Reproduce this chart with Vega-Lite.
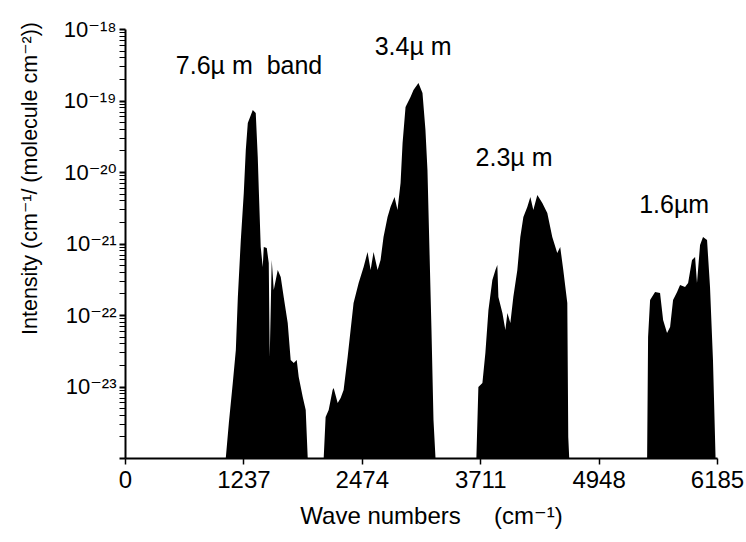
{
  "$schema": "https://vega.github.io/schema/vega-lite/v6.json",
  "autosize": {"type": "none"},
  "width": 592,
  "height": 429,
  "padding": {"left": 125, "top": 29, "right": 29, "bottom": 84},
  "background": "white",
  "config": {"view": {"stroke": null}, "font": "Liberation Sans, DejaVu Sans"},
  "datasets": {
    "spectrum": [
      {"band": "7.6", "wavenumber": 1053, "intensity": 1e-24},
      {"band": "7.6", "wavenumber": 1085, "intensity": 3.09e-24},
      {"band": "7.6", "wavenumber": 1126, "intensity": 1.12e-23},
      {"band": "7.6", "wavenumber": 1158, "intensity": 3.24e-23},
      {"band": "7.6", "wavenumber": 1179, "intensity": 1.79e-22},
      {"band": "7.6", "wavenumber": 1210, "intensity": 1.12e-21},
      {"band": "7.6", "wavenumber": 1241, "intensity": 5.08e-21},
      {"band": "7.6", "wavenumber": 1262, "intensity": 2.03e-20},
      {"band": "7.6", "wavenumber": 1283, "intensity": 4.84e-20},
      {"band": "7.6", "wavenumber": 1335, "intensity": 7.36e-20},
      {"band": "7.6", "wavenumber": 1366, "intensity": 6.68e-20},
      {"band": "7.6", "wavenumber": 1387, "intensity": 1.62e-20},
      {"band": "7.6", "wavenumber": 1398, "intensity": 5.6e-21},
      {"band": "7.6", "wavenumber": 1418, "intensity": 8.93e-22},
      {"band": "7.6", "wavenumber": 1439, "intensity": 4.69e-22},
      {"band": "7.6", "wavenumber": 1450, "intensity": 8.93e-22},
      {"band": "7.6", "wavenumber": 1481, "intensity": 8.65e-22},
      {"band": "7.6", "wavenumber": 1502, "intensity": 5.33e-22},
      {"band": "7.6", "wavenumber": 1512, "intensity": 2.59e-23},
      {"band": "7.6", "wavenumber": 1533, "intensity": 5.87e-22},
      {"band": "7.6", "wavenumber": 1554, "intensity": 2.24e-22},
      {"band": "7.6", "wavenumber": 1596, "intensity": 4.26e-22},
      {"band": "7.6", "wavenumber": 1627, "intensity": 3.4e-22},
      {"band": "7.6", "wavenumber": 1658, "intensity": 1.79e-22},
      {"band": "7.6", "wavenumber": 1700, "intensity": 7.73e-23},
      {"band": "7.6", "wavenumber": 1731, "intensity": 2.35e-23},
      {"band": "7.6", "wavenumber": 1763, "intensity": 2.13e-23},
      {"band": "7.6", "wavenumber": 1794, "intensity": 2.35e-23},
      {"band": "7.6", "wavenumber": 1815, "intensity": 1.36e-23},
      {"band": "7.6", "wavenumber": 1857, "intensity": 7.13e-24},
      {"band": "7.6", "wavenumber": 1888, "intensity": 4.69e-24},
      {"band": "7.6", "wavenumber": 1909, "intensity": 1e-24},
      {"band": "3.4", "wavenumber": 2076, "intensity": 1e-24},
      {"band": "3.4", "wavenumber": 2096, "intensity": 3.74e-24},
      {"band": "3.4", "wavenumber": 2128, "intensity": 4.69e-24},
      {"band": "3.4", "wavenumber": 2169, "intensity": 8.93e-24},
      {"band": "3.4", "wavenumber": 2180, "intensity": 9.53e-24},
      {"band": "3.4", "wavenumber": 2222, "intensity": 5.87e-24},
      {"band": "3.4", "wavenumber": 2253, "intensity": 6.9e-24},
      {"band": "3.4", "wavenumber": 2284, "intensity": 8.93e-24},
      {"band": "3.4", "wavenumber": 2326, "intensity": 2.59e-23},
      {"band": "3.4", "wavenumber": 2357, "intensity": 6.17e-23},
      {"band": "3.4", "wavenumber": 2388, "intensity": 1.47e-22},
      {"band": "3.4", "wavenumber": 2441, "intensity": 2.81e-22},
      {"band": "3.4", "wavenumber": 2493, "intensity": 4.69e-22},
      {"band": "3.4", "wavenumber": 2534, "intensity": 7.6e-22},
      {"band": "3.4", "wavenumber": 2566, "intensity": 4.26e-22},
      {"band": "3.4", "wavenumber": 2597, "intensity": 7.6e-22},
      {"band": "3.4", "wavenumber": 2639, "intensity": 4.26e-22},
      {"band": "3.4", "wavenumber": 2670, "intensity": 5.87e-22},
      {"band": "3.4", "wavenumber": 2701, "intensity": 1.23e-21},
      {"band": "3.4", "wavenumber": 2743, "intensity": 2.35e-21},
      {"band": "3.4", "wavenumber": 2774, "intensity": 3.24e-21},
      {"band": "3.4", "wavenumber": 2816, "intensity": 4.47e-21},
      {"band": "3.4", "wavenumber": 2847, "intensity": 2.94e-21},
      {"band": "3.4", "wavenumber": 2879, "intensity": 7.01e-21},
      {"band": "3.4", "wavenumber": 2900, "intensity": 2.55e-20},
      {"band": "3.4", "wavenumber": 2931, "intensity": 8.11e-20},
      {"band": "3.4", "wavenumber": 2983, "intensity": 1.12e-19},
      {"band": "3.4", "wavenumber": 3014, "intensity": 1.4e-19},
      {"band": "3.4", "wavenumber": 3066, "intensity": 1.76e-19},
      {"band": "3.4", "wavenumber": 3108, "intensity": 1.27e-19},
      {"band": "3.4", "wavenumber": 3139, "intensity": 3.86e-20},
      {"band": "3.4", "wavenumber": 3160, "intensity": 1.07e-20},
      {"band": "3.4", "wavenumber": 3181, "intensity": 8.11e-22},
      {"band": "3.4", "wavenumber": 3202, "intensity": 6.17e-23},
      {"band": "3.4", "wavenumber": 3223, "intensity": 3.4e-24},
      {"band": "3.4", "wavenumber": 3244, "intensity": 1e-24},
      {"band": "2.3", "wavenumber": 3671, "intensity": 1e-24},
      {"band": "2.3", "wavenumber": 3692, "intensity": 9.84e-24},
      {"band": "2.3", "wavenumber": 3734, "intensity": 1.12e-23},
      {"band": "2.3", "wavenumber": 3765, "intensity": 2.94e-23},
      {"band": "2.3", "wavenumber": 3797, "intensity": 1.17e-22},
      {"band": "2.3", "wavenumber": 3838, "intensity": 3.09e-22},
      {"band": "2.3", "wavenumber": 3870, "intensity": 4.26e-22},
      {"band": "2.3", "wavenumber": 3890, "intensity": 5e-22},
      {"band": "2.3", "wavenumber": 3901, "intensity": 1.79e-22},
      {"band": "2.3", "wavenumber": 3943, "intensity": 1.07e-22},
      {"band": "2.3", "wavenumber": 3974, "intensity": 6.17e-23},
      {"band": "2.3", "wavenumber": 3995, "intensity": 1.07e-22},
      {"band": "2.3", "wavenumber": 4026, "intensity": 7.73e-23},
      {"band": "2.3", "wavenumber": 4057, "intensity": 1.79e-22},
      {"band": "2.3", "wavenumber": 4099, "intensity": 4.26e-22},
      {"band": "2.3", "wavenumber": 4130, "intensity": 1.23e-21},
      {"band": "2.3", "wavenumber": 4162, "intensity": 2.35e-21},
      {"band": "2.3", "wavenumber": 4203, "intensity": 3.24e-21},
      {"band": "2.3", "wavenumber": 4235, "intensity": 4.47e-21},
      {"band": "2.3", "wavenumber": 4266, "intensity": 2.94e-21},
      {"band": "2.3", "wavenumber": 4308, "intensity": 4.76e-21},
      {"band": "2.3", "wavenumber": 4360, "intensity": 3.68e-21},
      {"band": "2.3", "wavenumber": 4412, "intensity": 2.67e-21},
      {"band": "2.3", "wavenumber": 4464, "intensity": 1.23e-21},
      {"band": "2.3", "wavenumber": 4516, "intensity": 7.36e-22},
      {"band": "2.3", "wavenumber": 4547, "intensity": 8.93e-22},
      {"band": "2.3", "wavenumber": 4579, "intensity": 4.26e-22},
      {"band": "2.3", "wavenumber": 4621, "intensity": 1.47e-22},
      {"band": "2.3", "wavenumber": 4631, "intensity": 1.97e-24},
      {"band": "2.3", "wavenumber": 4641, "intensity": 1e-24},
      {"band": "1.6", "wavenumber": 5455, "intensity": 1e-24},
      {"band": "1.6", "wavenumber": 5465, "intensity": 4.92e-23},
      {"band": "1.6", "wavenumber": 5486, "intensity": 1.62e-22},
      {"band": "1.6", "wavenumber": 5538, "intensity": 2.1e-22},
      {"band": "1.6", "wavenumber": 5590, "intensity": 2.03e-22},
      {"band": "1.6", "wavenumber": 5622, "intensity": 8.51e-23},
      {"band": "1.6", "wavenumber": 5663, "intensity": 5.6e-23},
      {"band": "1.6", "wavenumber": 5695, "intensity": 6.79e-23},
      {"band": "1.6", "wavenumber": 5726, "intensity": 1.62e-22},
      {"band": "1.6", "wavenumber": 5768, "intensity": 2.1e-22},
      {"band": "1.6", "wavenumber": 5799, "intensity": 2.63e-22},
      {"band": "1.6", "wavenumber": 5851, "intensity": 2.47e-22},
      {"band": "1.6", "wavenumber": 5883, "intensity": 2.81e-22},
      {"band": "1.6", "wavenumber": 5924, "intensity": 5.87e-22},
      {"band": "1.6", "wavenumber": 5956, "intensity": 6.47e-22},
      {"band": "1.6", "wavenumber": 5976, "intensity": 2.81e-22},
      {"band": "1.6", "wavenumber": 6008, "intensity": 9.53e-22},
      {"band": "1.6", "wavenumber": 6039, "intensity": 1.23e-21},
      {"band": "1.6", "wavenumber": 6081, "intensity": 1.12e-21},
      {"band": "1.6", "wavenumber": 6112, "intensity": 2.47e-22},
      {"band": "1.6", "wavenumber": 6143, "intensity": 2.35e-23},
      {"band": "1.6", "wavenumber": 6170, "intensity": 1e-24}
    ],
    "labels": [
      {"label": "7.6µ m\u00a0\u00a0band", "wavenumber": 1296, "intensity": 3.04e-19},
      {"label": "3.4µ m", "wavenumber": 3010, "intensity": 5.6e-19},
      {"label": "2.3µ m", "wavenumber": 4065, "intensity": 1.57e-20},
      {"label": "1.6µm", "wavenumber": 5737, "intensity": 3.45e-21}
    ]
  },
  "layer": [
    {
      "data": {"name": "spectrum"},
      "mark": {"type": "area", "color": "black", "interpolate": "linear", "opacity": 1},
      "encoding": {
        "x": {
          "field": "wavenumber",
          "type": "quantitative",
          "scale": {"domain": [0, 6185], "nice": false, "zero": false},
          "axis": {
            "values": [0, 1237, 2474, 3711, 4948, 6185],
            "format": "d",
            "grid": false,
            "domainColor": "black",
            "domainWidth": 2,
            "tickColor": "black",
            "tickSize": 6,
            "tickWidth": 1.5,
            "labelFontSize": 24,
            "labelColor": "black",
            "labelPadding": 4,
            "labelFlush": false,
            "title": "Wave numbers\u00a0\u00a0\u00a0\u00a0\u00a0(cm⁻¹)",
            "titleFontSize": 24,
            "titleFontWeight": "normal",
            "titleColor": "black",
            "titlePadding": 12,
            "titleX": 306
          }
        },
        "y": {
          "field": "intensity",
          "type": "quantitative",
          "scale": {"type": "log", "domain": [1e-24, 1e-18], "nice": false},
          "axis": {
            "orient": "left",
            "values": [1e-24, 2e-24, 3e-24, 4e-24, 5e-24, 6e-24, 7e-24, 8e-24, 9e-24, 1e-23, 2e-23, 3e-23, 4e-23, 5e-23, 6e-23, 7e-23, 8e-23, 9e-23, 1e-22, 2e-22, 3e-22, 4e-22, 5e-22, 6e-22, 7e-22, 8e-22, 9e-22, 1e-21, 2e-21, 3e-21, 4e-21, 5e-21, 6e-21, 7e-21, 8e-21, 9e-21, 1e-20, 2e-20, 3e-20, 4e-20, 5e-20, 6e-20, 7e-20, 8e-20, 9e-20, 1e-19, 2e-19, 3e-19, 4e-19, 5e-19, 6e-19, 7e-19, 8e-19, 9e-19, 1e-18],
            "labelExpr": "abs(log(datum.value)/LN10 - round(log(datum.value)/LN10)) > 0.01 || datum.value < 5e-24 ? '' : datum.value < 5e-23 ? '10⁻²³' : datum.value < 5e-22 ? '10⁻²²' : datum.value < 5e-21 ? '10⁻²¹' : datum.value < 5e-20 ? '10⁻²⁰' : datum.value < 5e-19 ? '10⁻¹⁹' : '10⁻¹⁸'",
            "grid": false,
            "domainColor": "black",
            "domainWidth": 2,
            "tickColor": "black",
            "tickSize": 6,
            "tickWidth": {"condition": {"test": "abs(log(datum.value)/LN10 - round(log(datum.value)/LN10)) < 0.01", "value": 2}, "value": 1},
            "labelFontSize": 22,
            "labelColor": "black",
            "labelPadding": 3,
            "labelFlush": false,
            "labelOverlap": false,
            "title": "Intensity  (cm⁻¹/ (molecule cm⁻²))",
            "titleFontSize": 21.5,
            "titleFontWeight": "normal",
            "titleColor": "black",
            "titleAngle": -90,
            "titleAlign": "center",
            "titleBaseline": "middle",
            "titleX": -95,
            "titleY": 149
          }
        },
        "y2": {"datum": 1e-24},
        "detail": {"field": "band", "type": "nominal"}
      }
    },
    {
      "data": {"name": "labels"},
      "mark": {"type": "text", "fontSize": 25, "color": "black", "align": "center", "baseline": "middle"},
      "encoding": {
        "x": {"field": "wavenumber", "type": "quantitative"},
        "y": {"field": "intensity", "type": "quantitative"},
        "text": {"field": "label", "type": "nominal"}
      }
    }
  ]
}
